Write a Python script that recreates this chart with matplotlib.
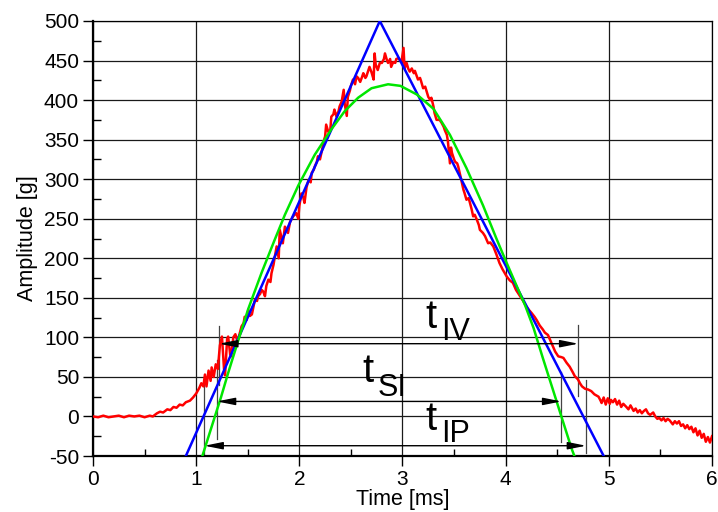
import matplotlib
matplotlib.use('Agg')
import matplotlib.pyplot as plt
from matplotlib.ticker import MultipleLocator

plt.rcParams['font.family'] = ['Liberation Sans', 'DejaVu Sans']
plt.rcParams['axes.unicode_minus'] = False

red_t = [0.00, 0.05, 0.10, 0.15, 0.20, 0.25, 0.30, 0.35, 0.40, 0.45, 0.50, 0.55, 0.58,
         0.62, 0.65, 0.68, 0.72, 0.75, 0.78, 0.81, 0.84, 0.87, 0.90, 0.94, 0.97, 1.00,
         1.03, 1.05, 1.07, 1.085, 1.10, 1.12, 1.14, 1.15, 1.17, 1.19, 1.21, 1.23, 1.25,
         1.27, 1.28, 1.30, 1.31, 1.33, 1.34, 1.36, 1.38, 1.40, 1.42, 1.44, 1.46, 1.47,
         1.49, 1.505, 1.52, 1.54, 1.56, 1.57, 1.59, 1.60, 1.62, 1.635, 1.65, 1.667, 1.68,
         1.70, 1.72, 1.73, 1.75, 1.76, 1.78, 1.80, 1.81, 1.83, 1.84, 1.86, 1.89, 1.91,
         1.94, 1.97, 1.99, 2.00, 2.02, 2.04, 2.05, 2.07, 2.09, 2.11, 2.12, 2.14, 2.15,
         2.17, 2.18, 2.20, 2.22, 2.24, 2.25, 2.26, 2.28, 2.30, 2.31, 2.33, 2.34, 2.36,
         2.38, 2.39, 2.41, 2.43, 2.44, 2.46, 2.47, 2.49, 2.50, 2.52, 2.54, 2.555, 2.57,
         2.59, 2.61, 2.62, 2.64, 2.65, 2.67, 2.68, 2.70, 2.72, 2.73, 2.74, 2.76, 2.78,
         2.80, 2.82, 2.83, 2.85, 2.86, 2.88, 2.89, 2.91, 2.93, 2.94, 2.96, 2.99, 3.01,
         3.02, 3.04, 3.055, 3.07, 3.09, 3.11, 3.12, 3.15, 3.17, 3.18, 3.20, 3.22, 3.24,
         3.25, 3.27, 3.28, 3.30, 3.31, 3.33, 3.36, 3.38, 3.40, 3.41, 3.43, 3.44, 3.46,
         3.47, 3.48, 3.50, 3.51, 3.53, 3.54, 3.56, 3.57, 3.59, 3.60, 3.62, 3.64, 3.65,
         3.67, 3.685, 3.70, 3.72, 3.74, 3.75, 3.78, 3.80, 3.83, 3.85, 3.88, 3.91, 3.94,
         3.97, 4.01, 4.04, 4.07, 4.10, 4.14, 4.17, 4.20, 4.23, 4.25, 4.28, 4.30, 4.33,
         4.36, 4.38, 4.41, 4.43, 4.46, 4.48, 4.51, 4.54, 4.56, 4.59, 4.62, 4.65, 4.67,
         4.70, 4.72, 4.74, 4.77, 4.80, 4.83, 4.86, 4.90, 4.92, 4.93, 4.95, 4.97, 4.99,
         5.01, 5.02, 5.04, 5.06, 5.08, 5.10, 5.12, 5.14, 5.17, 5.19, 5.21, 5.24, 5.26,
         5.28, 5.30, 5.32, 5.34, 5.36, 5.38, 5.40, 5.43, 5.45, 5.47, 5.49, 5.51, 5.53,
         5.55, 5.57, 5.59, 5.62, 5.64, 5.66, 5.68, 5.70, 5.72, 5.74, 5.76, 5.78, 5.80,
         5.82, 5.84, 5.86, 5.88, 5.90, 5.92, 5.94, 5.96, 5.98, 6.00]
red_a = [0, -1, 1, -1, 0, 1, -1, 1, 0, 1, -1, 1, 0,
         4, 6, 5, 9, 8, 12, 11, 15, 14, 18, 20, 24, 29,
         36, 42, 38, 53, 38, 58, 45, 62, 50, 66, 60, 90, 101,
         60, 52, 98, 101, 78, 76, 100, 104, 95, 104, 114, 118, 126,
         122, 135, 127, 129, 142, 148, 146, 152, 155, 160, 158, 152, 165,
         173, 170, 181, 192, 200, 215, 200, 236, 225, 219, 240, 232, 246,
         253, 257, 250, 266, 282, 276, 270, 290, 299, 296, 308, 312, 316,
         322, 329, 325, 337, 350, 354, 369, 360, 362, 379, 382, 388, 379,
         386, 392, 398, 413, 395, 380, 404, 412, 418, 426, 420, 430, 428,
         423, 430, 434, 428, 430, 438, 442, 435, 426, 459, 445, 438, 447,
         447, 452, 459, 450, 447, 452, 442, 448, 447, 452, 453, 448, 466,
         440, 447, 440, 436, 440, 434, 437, 426, 428, 424, 415, 417, 408,
         404, 400, 403, 392, 384, 375, 375, 371, 366, 362, 356, 348, 320,
         340, 333, 325, 322, 320, 316, 305, 299, 287, 283, 274, 276, 272,
         262, 253, 255, 249, 242, 236, 232, 228, 219, 220, 215, 205, 194,
         186, 177, 172, 169, 160, 152, 146, 139, 134, 131, 126, 122, 115,
         110, 106, 103, 97, 88, 82, 76, 75, 74, 68, 63, 56, 51,
         47, 42, 38, 35, 34, 32, 28, 25, 20, 17, 24, 15, 23,
         16, 21, 18, 22, 15, 20, 12, 16, 12, 9, 14, 7, 10,
         5, 8, 4, 7, 9, 4, 2, 5, 0, -3, -2, -5, -2,
         -6, -3, -5, -10, -6, -9, -6, -12, -10, -15, -11, -16, -13,
         -20, -15, -24, -18, -27, -22, -32, -26, -33, -25]

# triangular approximation
tri_t = [0.90, 2.78, 4.95]
tri_a = [-50, 500, -50]

# half-sine approximation
sine_t = [1.06, 1.15, 1.24, 1.31, 1.41, 1.505, 1.635, 1.76, 1.86, 1.99, 2.15, 2.31,
          2.44, 2.57, 2.70, 2.86, 2.98, 3.14, 3.30, 3.46, 3.62, 3.78, 3.91, 4.01,
          4.07, 4.19, 4.27, 4.36, 4.46, 4.54, 4.64, 4.666]
sine_a = [-50, -13, 24, 55, 97, 136, 182, 223, 255, 292, 331, 363,
          386, 403, 415, 420, 418, 407, 389, 356, 314, 267, 225, 194,
          176, 140, 112, 74, 33, 0, -41, -50]

fig = plt.figure(figsize=(7.18, 5.12), dpi=100)
ax = fig.add_axes([93 / 718, 56 / 512, 619 / 718, 435 / 512])

ax.plot(red_t, red_a, color='#ff0000', lw=1.8, zorder=3)
ax.plot(tri_t, tri_a, color='#0000ff', lw=1.8, zorder=4)
ax.plot(sine_t, sine_a, color='#00e600', lw=1.8, zorder=5)

# marker lines and double arrows for the pulse durations
vlines = [(1.222, 40, 114), (4.705, 26, 116), (1.20, -29, 72),
          (4.54, -32, 56), (1.08, -50, 42), (4.78, -46, 46)]
for x, y0, y1 in vlines:
    ax.plot([x, x], [y0, y1], color='#444444', lw=0.9, zorder=2)

arrows = [(1.222, 4.705, 92), (1.20, 4.54, 19), (1.08, 4.78, -37)]
for x0, x1, y in arrows:
    ax.annotate('', xy=(x1, y), xytext=(x0, y),
                arrowprops=dict(arrowstyle='<|-|>,head_length=1.1,head_width=0.22',
                                mutation_scale=10, color='black', lw=1,
                                shrinkA=0, shrinkB=0), zorder=6)

labels = [('IV', 3.217, 112, 3.379, 97), ('SI', 2.607, 43, 2.762, 26),
          ('IP', 3.217, -17, 3.379, -32)]
for sub, xt, yt, xs, ys in labels:
    ax.text(xt, yt, 't', fontsize=29, ha='left', va='baseline', zorder=7)
    ax.text(xs, ys, sub, fontsize=22, ha='left', va='baseline', zorder=7)

ax.set_xlim(0, 6)
ax.set_ylim(-50, 500)
ax.xaxis.set_major_locator(MultipleLocator(1))
ax.xaxis.set_minor_locator(MultipleLocator(0.5))
ax.yaxis.set_major_locator(MultipleLocator(50))
ax.yaxis.set_minor_locator(MultipleLocator(25))
ax.grid(True, which='major', color='#1a1a1a', lw=0.9)
ax.set_axisbelow(True)

ax.tick_params(which='major', direction='out', length=7, width=1, labelsize=15, pad=3)
ax.tick_params(axis='x', which='minor', direction='in', length=5, width=1)
ax.tick_params(axis='y', which='minor', direction='in', length=6, width=1)
for side in ['left', 'bottom']:
    ax.spines[side].set_linewidth(1.6)
for side in ['top', 'right']:
    ax.spines[side].set_linewidth(0.9)

ax.set_xlabel('Time [ms]', fontsize=15.5, labelpad=0)
ax.set_ylabel('Amplitude [g]', fontsize=15.5, labelpad=4)

fig.savefig('out.png', dpi=100)
